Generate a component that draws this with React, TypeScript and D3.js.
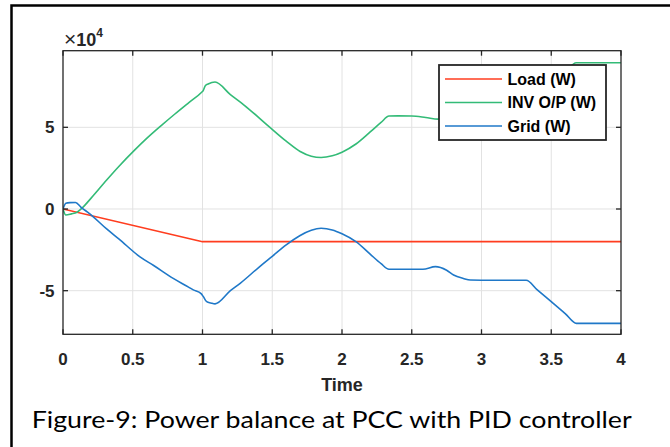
import React from 'react';
import * as d3 from 'd3';

// Axis ticks
const timeTicks = [0, 0.5, 1, 1.5, 2, 2.5, 3, 3.5, 4];
const timeTickLabels = ['0', '0.5', '1', '1.5', '2', '2.5', '3', '3.5', '4'];
const powerTicks = [-50000, 0, 50000];
const powerTickLabels = ['-5', '0', '5'];

// Load power (W)
const loadTime = [0, 1, 4];
const loadPower = [0, -20000, -20000];

// Inverter output power (W)
const invTime = [
  0, 0.02, 0.06, 0.1, 0.135, 0.2, 0.313, 0.4, 0.513, 0.6, 0.71, 0.8, 0.9, 0.994,
  1.005, 1.02, 1.04, 1.09, 1.2, 1.3, 1.477, 1.6, 1.7, 1.78, 1.85, 1.93, 2.0, 2.1,
  2.2, 2.28, 2.337, 2.4, 2.5, 2.6, 2.69, 2.75, 2.8, 2.87, 2.92, 3.0, 3.32, 3.4, 3.5, 3.6, 3.68, 4,
];
const invPower = [
  0, -3700, -3000, -2000, 400, 6500, 17700, 26000, 36000, 43200, 51500, 58000, 65000, 71500,
  72500, 75500, 76500, 77700, 70000, 63500, 50400, 41500, 35200, 32300, 31500, 32600, 34800, 39800,
  47000, 53000, 56900, 57000, 56900, 56000, 55000, 57000, 60400, 62500, 63500, 63600, 63600, 69500, 76700, 84000, 89500, 89500,
];

// Grid power (W)
const gridTime = [
  0, 0.02, 0.05, 0.09, 0.13, 0.19, 0.313, 0.4, 0.552, 0.65, 0.79, 0.9, 0.934, 0.99,
  1.005, 1.03, 1.06, 1.09, 1.2, 1.27, 1.4, 1.5, 1.6, 1.7, 1.78, 1.85, 1.93, 2.0,
  2.1, 2.2, 2.28, 2.337, 2.45, 2.58, 2.67, 2.75, 2.8, 2.87, 2.92, 3.0, 3.32, 3.4, 3.5, 3.6, 3.68, 4,
];
const gridPower = [
  0, 3500, 3900, 4000, 1000, -2800, -12200, -18300, -29300, -34600, -42500, -47800, -49500, -51800,
  -53500, -56700, -57500, -58100, -50000, -45500, -36000, -29000, -22000, -16200, -13000, -11800, -12800, -15200,
  -20000, -27500, -33500, -36900, -36900, -36900, -35300, -37500, -40400, -42500, -43500, -43600, -43600, -49500, -56700, -64000, -70000, -70000,
];

const seriesNames = ['Load (W)', 'INV O/P (W)', 'Grid (W)'];
const seriesColors = ['#ff3d1f', '#33bb77', '#1f78c8'];

const W = 670;
const H = 447;
const plot = { left: 63, right: 621, top: 50.7, bottom: 334.3 };
const axisFont = "'Liberation Sans', Arial, Helvetica, sans-serif";

export default function App() {
  const x = d3.scaleLinear().domain([0, 4]).range([plot.left, plot.right]);
  const y = d3.scaleLinear().domain([-76700, 96900]).range([plot.bottom, plot.top]);

  const straight = d3
    .line<[number, number]>()
    .x((d) => x(d[0]))
    .y((d) => y(d[1]));
  const smooth = d3
    .line<[number, number]>()
    .x((d) => x(d[0]))
    .y((d) => y(d[1]))
    .curve(d3.curveMonotoneX);

  const series = [
    loadTime.map((t, i) => [t, loadPower[i]] as [number, number]),
    invTime.map((t, i) => [t, invPower[i]] as [number, number]),
    gridTime.map((t, i) => [t, gridPower[i]] as [number, number]),
  ];
  const generators = [straight, smooth, smooth];

  const tickLen = 5;
  const legend = { x0: 439, x1: 606, y0: 65, y1: 140, rows: [79, 102.5, 126] };

  return (
    <svg
      width={W}
      height={H}
      style={{ position: 'absolute', left: 0, top: 0, background: '#fff' }}
    >
      <rect x={0} y={0} width={W} height={H} fill="#fff" />
      {/* outer frame */}
      <path d={`M11.5,${H + 5} V5.5 H${W + 5}`} fill="none" stroke="#000" strokeWidth={2.5} />

      {/* grid */}
      <g stroke="#e2e2e2" strokeWidth={1}>
        {timeTicks.slice(1, -1).map((t) => (
          <line key={`gx${t}`} x1={x(t)} x2={x(t)} y1={plot.top} y2={plot.bottom} />
        ))}
        {powerTicks.map((p) => (
          <line key={`gy${p}`} x1={plot.left} x2={plot.right} y1={y(p)} y2={y(p)} />
        ))}
      </g>

      {/* data */}
      <defs>
        <clipPath id="plotClip">
          <rect x={plot.left} y={plot.top} width={plot.right - plot.left} height={plot.bottom - plot.top} />
        </clipPath>
      </defs>
      <g clipPath="url(#plotClip)">
        {series.map((s, i) => (
          <path
            key={seriesNames[i]}
            d={generators[i](s) ?? ''}
            fill="none"
            stroke={seriesColors[i]}
            strokeWidth={1.6}
            strokeLinejoin="round"
          />
        ))}
      </g>

      {/* axes box and ticks */}
      <g stroke="#262626" strokeWidth={1.3} fill="none">
        <rect x={plot.left} y={plot.top} width={plot.right - plot.left} height={plot.bottom - plot.top} />
        {timeTicks.map((t) => (
          <g key={`tx${t}`}>
            <line x1={x(t)} x2={x(t)} y1={plot.bottom} y2={plot.bottom - tickLen} />
            <line x1={x(t)} x2={x(t)} y1={plot.top} y2={plot.top + tickLen} />
          </g>
        ))}
        {powerTicks.map((p) => (
          <g key={`ty${p}`}>
            <line x1={plot.left} x2={plot.left + tickLen} y1={y(p)} y2={y(p)} />
            <line x1={plot.right} x2={plot.right - tickLen} y1={y(p)} y2={y(p)} />
          </g>
        ))}
      </g>

      {/* tick labels */}
      <g fontFamily={axisFont} fontWeight="bold" fontSize={17} fill="#262626">
        {timeTicks.map((t, i) => (
          <text key={`lx${t}`} x={x(t)} y={365} textAnchor="middle">
            {timeTickLabels[i]}
          </text>
        ))}
        {powerTicks.map((p, i) => (
          <text key={`ly${p}`} x={54.5} y={y(p)} dy="0.36em" textAnchor="end">
            {powerTickLabels[i]}
          </text>
        ))}
        <text x={(plot.left + plot.right) / 2} y={391} textAnchor="middle" fontSize={18}>
          Time
        </text>
        <text x={64} y={45.5}>
          <tspan fontWeight="normal" fontSize={21}>×</tspan>
          <tspan fontSize={18}>10</tspan>
          <tspan fontSize={12} dy={-9}>4</tspan>
        </text>
      </g>

      {/* legend */}
      <g>
        <rect
          x={legend.x0}
          y={legend.y0}
          width={legend.x1 - legend.x0}
          height={legend.y1 - legend.y0}
          fill="#fff"
          stroke="#262626"
          strokeWidth={1.8}
        />
        {seriesNames.map((name, i) => (
          <g key={name}>
            <line
              x1={445}
              x2={502}
              y1={legend.rows[i]}
              y2={legend.rows[i]}
              stroke={seriesColors[i]}
              strokeWidth={1.6}
            />
            <text
              x={507.5}
              y={legend.rows[i]}
              dy="0.36em"
              fontFamily={axisFont}
              fontWeight="bold"
              fontSize={16}
              fill="#000"
            >
              {name}
            </text>
          </g>
        ))}
      </g>

      {/* caption */}
      <text
        x={31.7}
        y={428.3}
        fontFamily="Lato, 'Open Sans', sans-serif"
        fontSize={23.5}
        textLength={600}
        lengthAdjust="spacingAndGlyphs"
        fill="#000"
      >
        Figure-9: Power balance at PCC with PID controller
      </text>
    </svg>
  );
}
